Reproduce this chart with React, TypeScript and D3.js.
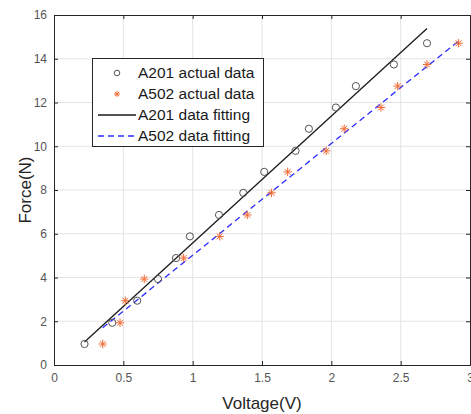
import React, { useRef, useEffect } from "react";
import * as d3 from "d3";

// measured data (force steps shared by both sensors)
const force = [0.96, 1.93, 2.94, 3.93, 4.89, 5.88, 6.86, 7.87, 8.83, 9.79, 10.8, 11.77, 12.75, 13.74, 14.71];
const voltA201 = [0.22, 0.42, 0.6, 0.75, 0.88, 0.98, 1.19, 1.365, 1.516, 1.742, 1.838, 2.033, 2.177, 2.451, 2.69];
const voltA502 = [0.351, 0.476, 0.514, 0.651, 0.935, 1.195, 1.394, 1.569, 1.685, 1.963, 2.093, 2.358, 2.478, 2.69, 2.918];

// linear fits: [slope, intercept]
const fitA201 = [5.8, -0.22];
const fitA502 = [5.107, -0.09];

const xTicks = [0, 0.5, 1, 1.5, 2, 2.5, 3];
const yTicks = [0, 2, 4, 6, 8, 10, 12, 14, 16];
const legendLabels = ["A201 actual data", "A502 actual data", "A201 data fitting", "A502 data fitting"];

const App = () => {
  const ref = useRef<SVGSVGElement>(null);

  useEffect(() => {
    const svg = d3.select(ref.current);
    svg.selectAll("*").remove();

    const width = 471;
    const height = 414;
    const margin = { top: 15, right: 1, bottom: 49, left: 54 };
    const font = "Liberation Sans, Arial, sans-serif";
    const starColor = "#f26a35";

    const x = d3.scaleLinear().domain([0, 3]).range([margin.left, width - margin.right]);
    const y = d3.scaleLinear().domain([0, 16]).range([height - margin.bottom, margin.top]);

    svg.append("rect").attr("width", width).attr("height", height).attr("fill", "white");

    // grid
    const grid = svg.append("g").attr("stroke", "#e3e3e3").attr("stroke-width", 1);
    grid.selectAll("line.gx").data(xTicks.slice(1, -1)).join("line")
      .attr("x1", (d) => x(d)).attr("x2", (d) => x(d))
      .attr("y1", y(0)).attr("y2", y(16));
    grid.selectAll("line.gy").data(yTicks.slice(1, -1)).join("line")
      .attr("x1", x(0)).attr("x2", x(3))
      .attr("y1", (d) => y(d)).attr("y2", (d) => y(d));

    // axes (matlab style: ticks inward, box on)
    const axisColor = "#262626";
    const bottom = svg.append("g").attr("transform", `translate(0,${y(0)})`)
      .call(d3.axisBottom(x).tickValues(xTicks).tickSize(-4).tickPadding(8).tickFormat((d) => String(d)));
    const left = svg.append("g").attr("transform", `translate(${x(0)},0)`)
      .call(d3.axisLeft(y).tickValues(yTicks).tickSize(-4).tickPadding(7).tickFormat((d) => String(d)));
    svg.append("g").attr("transform", `translate(0,${y(16)})`)
      .call(d3.axisTop(x).tickValues(xTicks).tickSize(-4).tickFormat(() => ""));
    svg.append("g").attr("transform", `translate(${x(3)},0)`)
      .call(d3.axisRight(y).tickValues(yTicks).tickSize(-4).tickFormat(() => ""));
    svg.selectAll(".domain").attr("stroke", axisColor);
    svg.selectAll(".tick line").attr("stroke", axisColor);
    [bottom, left].forEach((g) =>
      g.selectAll("text").attr("fill", "#555").attr("font-size", 12).attr("font-family", font)
    );

    // fit lines
    const fitLine = (fit: number[], xs: number[]) => {
      const x0 = d3.min(xs) as number;
      const x1 = d3.max(xs) as number;
      return [[x0, fit[0] * x0 + fit[1]], [x1, fit[0] * x1 + fit[1]]];
    };
    const line = d3.line<number[]>().x((d) => x(d[0])).y((d) => y(d[1]));
    svg.append("path").attr("d", line(fitLine(fitA201, voltA201)))
      .attr("stroke", "#1a1a1a").attr("stroke-width", 1.3).attr("fill", "none");
    svg.append("path").attr("d", line(fitLine(fitA502, voltA502)))
      .attr("stroke", "#2b2bff").attr("stroke-width", 1.3).attr("stroke-dasharray", "6,4").attr("fill", "none");

    // markers
    const star = (g: any, cx: number, cy: number, r: number) => {
      const p = `M${cx - r},${cy}H${cx + r}M${cx},${cy - r}V${cy + r}` +
        `M${cx - r * 0.7},${cy - r * 0.7}L${cx + r * 0.7},${cy + r * 0.7}` +
        `M${cx - r * 0.7},${cy + r * 0.7}L${cx + r * 0.7},${cy - r * 0.7}`;
      g.append("path").attr("d", p).attr("stroke", starColor).attr("stroke-width", 1).attr("fill", "none");
    };
    svg.append("g").selectAll("circle").data(voltA201).join("circle")
      .attr("cx", (d) => x(d)).attr("cy", (d, i) => y(force[i])).attr("r", 3.6)
      .attr("fill", "none").attr("stroke", "#555").attr("stroke-width", 1);
    const stars = svg.append("g");
    voltA502.forEach((d, i) => star(stars, x(d), y(force[i]), 4.2));

    // axis labels
    svg.append("text").attr("x", (x(0) + x(3)) / 2).attr("y", 409).attr("text-anchor", "middle")
      .attr("font-family", font).attr("font-size", 17).attr("fill", "#262626").text("Voltage(V)");
    svg.append("text").attr("transform", `translate(31,${y(8)}) rotate(-90)`).attr("text-anchor", "middle")
      .attr("font-family", font).attr("font-size", 17).attr("fill", "#262626").text("Force(N)");

    // legend
    const lg = svg.append("g");
    lg.append("rect").attr("x", 92.5).attr("y", 58.5).attr("width", 171).attr("height", 88)
      .attr("fill", "white").attr("stroke", "#262626").attr("stroke-width", 1);
    const rowY = [73, 94, 115, 136];
    lg.selectAll("text").data(legendLabels).join("text")
      .attr("x", 138).attr("y", (d, i) => rowY[i]).attr("dy", "0.35em")
      .attr("font-family", font).attr("font-size", 15.5).attr("fill", "#1a1a1a").text((d) => d);
    lg.append("circle").attr("cx", 117).attr("cy", rowY[0]).attr("r", 2.8)
      .attr("fill", "none").attr("stroke", "#555");
    star(lg, 117, rowY[1], 3);
    lg.append("line").attr("x1", 98).attr("x2", 136).attr("y1", rowY[2]).attr("y2", rowY[2])
      .attr("stroke", "#1a1a1a").attr("stroke-width", 1.3);
    lg.append("line").attr("x1", 98).attr("x2", 136).attr("y1", rowY[3]).attr("y2", rowY[3])
      .attr("stroke", "#2b2bff").attr("stroke-width", 1.3).attr("stroke-dasharray", "6,4");
  }, []);

  return (
    <svg ref={ref} width={471} height={414} style={{ position: "absolute", left: 0, top: 0 }}></svg>
  );
};

export default App;
